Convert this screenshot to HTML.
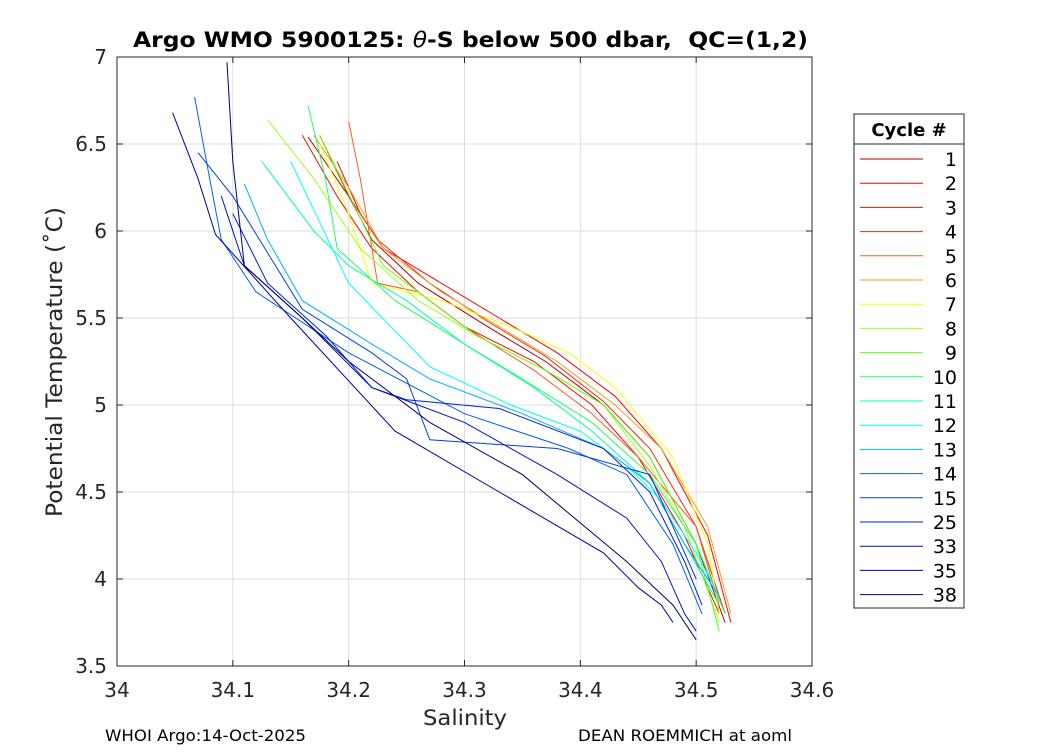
<!DOCTYPE html>
<html><head><meta charset="utf-8"><style>
body{margin:0;background:#fff;font-family:"Liberation Sans","DejaVu Sans",sans-serif}
svg text{font-family:"DejaVu Sans","Liberation Sans",sans-serif}
</style></head><body>
<svg id="chart" width="1050" height="750" xmlns="http://www.w3.org/2000/svg">
<rect width="1050" height="750" fill="#fff"/>
<g id="grid"></g>
<g id="series"></g>
<rect x="117" y="57" width="695" height="609" fill="none" stroke="#262626" stroke-width="1"/>
<g id="ticks"></g>
<text x="133" y="47" font-size="21" font-weight="bold" fill="#000" textLength="675" lengthAdjust="spacingAndGlyphs" xml:space="preserve">Argo WMO 5900125: <tspan font-style="italic" font-weight="normal">θ</tspan>-S below 500 dbar,  QC=(1,2)</text>
<text x="423" y="725" font-size="21" fill="#262626" textLength="84" lengthAdjust="spacingAndGlyphs">Salinity</text>
<text transform="translate(62,517) rotate(-90)" font-size="22" fill="#262626" textLength="310" lengthAdjust="spacingAndGlyphs">Potential Temperature (˚C)</text>
<text x="105" y="741" font-size="16" fill="#000" textLength="201" lengthAdjust="spacingAndGlyphs">WHOI Argo:14-Oct-2025</text>
<text x="578" y="741" font-size="16" fill="#000" textLength="214" lengthAdjust="spacingAndGlyphs">DEAN ROEMMICH at aoml</text>
<g id="legend">
<rect x="854" y="114" width="110" height="494" fill="#fff" stroke="#262626"/>
<line x1="854" y1="144" x2="964" y2="144" stroke="#262626"/>
<text x="909" y="136" text-anchor="middle" font-size="18" font-weight="bold" fill="#000">Cycle #</text>
</g>
</svg>
<script>
const cycles=[1,2,3,4,5,6,7,8,9,10,11,12,13,14,15,25,33,35,38];
const colors=["#b00000","#ff0000","#f01000","#e83010","#f06020","#f0a020","#ffff00","#a0ff20","#60ff20","#20ff60","#00ffb0","#00ffff","#00b0ff","#0060f0","#0040e0","#0020d0","#0010c0","#0000a0","#000070"];
const salinity=[
[34.165,34.2,34.22,34.26,34.32,34.37,34.42,34.46,34.5,34.525],
[34.19,34.21,34.23,34.28,34.33,34.38,34.43,34.47,34.51,34.53],
[34.16,34.19,34.22,34.26,34.3,34.36,34.41,34.45,34.49,34.52],
[34.175,34.2,34.225,34.27,34.32,34.37,34.42,34.46,34.5,34.525],
[34.2,34.21,34.225,34.26,34.3,34.36,34.41,34.45,34.5,34.52],
[34.17,34.2,34.23,34.28,34.33,34.38,34.43,34.47,34.51,34.53],
[34.175,34.2,34.22,34.28,34.34,34.39,34.43,34.48,34.51,34.52],
[34.13,34.17,34.21,34.26,34.31,34.37,34.42,34.46,34.49,34.52],
[34.175,34.19,34.23,34.27,34.31,34.37,34.42,34.46,34.5,34.52],
[34.165,34.18,34.19,34.24,34.3,34.35,34.41,34.46,34.5,34.525],
[34.125,34.17,34.2,34.25,34.3,34.36,34.41,34.46,34.49,34.52],
[34.15,34.175,34.2,34.27,34.34,34.4,34.44,34.47,34.5,34.52],
[34.11,34.13,34.16,34.22,34.27,34.35,34.42,34.46,34.49,34.52],
[34.067,34.08,34.09,34.12,34.2,34.3,34.39,34.44,34.48,34.505],
[34.07,34.1,34.16,34.22,34.24,34.25,34.27,34.38,34.46,34.5],
[34.1,34.13,34.18,34.22,34.25,34.33,34.42,34.46,34.49,34.505],
[34.09,34.11,34.16,34.22,34.3,34.38,34.44,34.47,34.49,34.5],
[34.048,34.07,34.085,34.15,34.24,34.33,34.42,34.45,34.47,34.48],
[34.095,34.1,34.11,34.16,34.2,34.27,34.35,34.44,34.48,34.5]];
const theta=[
[6.54,6.2,5.95,5.7,5.45,5.25,5.0,4.7,4.2,3.75],
[6.4,6.1,5.9,5.7,5.5,5.3,5.05,4.75,4.25,3.75],
[6.55,6.2,5.9,5.65,5.45,5.25,5.0,4.7,4.25,3.8],
[6.55,6.2,5.95,5.7,5.48,5.28,5.02,4.75,4.3,3.8],
[6.63,6.3,5.7,5.65,5.45,5.2,4.95,4.7,4.3,3.85],
[6.55,6.25,5.9,5.65,5.45,5.25,5.0,4.75,4.3,3.8],
[6.5,6.1,5.7,5.6,5.45,5.3,5.1,4.7,4.2,3.8],
[6.64,6.3,5.9,5.6,5.4,5.2,5.0,4.65,4.3,3.75],
[6.55,6.35,5.8,5.6,5.4,5.2,5.0,4.7,4.2,3.7],
[6.72,6.3,5.9,5.6,5.35,5.15,4.9,4.6,4.2,3.8],
[6.4,6.0,5.8,5.6,5.35,5.1,4.85,4.55,4.2,3.85],
[6.4,6.05,5.7,5.22,5.0,4.85,4.65,4.45,4.15,3.9],
[6.27,5.95,5.6,5.35,5.15,4.95,4.75,4.55,4.2,3.9],
[6.77,6.3,5.95,5.65,5.3,4.95,4.75,4.6,4.2,3.8],
[6.45,6.2,5.55,5.3,5.2,5.15,4.8,4.75,4.6,4.0],
[6.1,5.7,5.4,5.1,5.03,4.98,4.75,4.5,4.1,3.85],
[6.2,5.8,5.5,5.1,4.9,4.6,4.35,4.1,3.8,3.7],
[6.68,6.3,5.98,5.5,4.85,4.5,4.15,3.95,3.85,3.75],
[6.97,6.4,5.8,5.5,5.25,4.9,4.6,4.1,3.85,3.65]];
const xTicks=[34,34.1,34.2,34.3,34.4,34.5,34.6];
const yTicks=[3.5,4,4.5,5,5.5,6,6.5,7];
const xs=s=>117+(s-34)/0.6*695;
const ys=t=>666-(t-3.5)/3.5*609;
const NS="http://www.w3.org/2000/svg";
const grid=document.getElementById('grid'),tk=document.getElementById('ticks');
function mk(tag,attrs,parent){const e=document.createElementNS(NS,tag);for(const k in attrs)e.setAttribute(k,attrs[k]);parent.appendChild(e);return e;}
xTicks.forEach(v=>{const x=xs(v);
 mk('line',{x1:x,x2:x,y1:57,y2:666,stroke:'#dcdcdc'},grid);
 mk('line',{x1:x,x2:x,y1:666,y2:660,stroke:'#262626'},tk);
 mk('line',{x1:x,x2:x,y1:57,y2:63,stroke:'#262626'},tk);
 const t=mk('text',{x:x,y:697,'text-anchor':'middle','font-size':20,fill:'#262626'},tk);t.textContent=v;
 
 });
yTicks.forEach(v=>{const y=ys(v);
 mk('line',{x1:117,x2:812,y1:y,y2:y,stroke:'#dcdcdc'},grid);
 mk('line',{x1:117,x2:123,y1:y,y2:y,stroke:'#262626'},tk);
 mk('line',{x1:812,x2:806,y1:y,y2:y,stroke:'#262626'},tk);
 const t=mk('text',{x:107,y:y+7,'text-anchor':'end','font-size':20,fill:'#262626'},tk);t.textContent=v;
 
 });
const sg=document.getElementById('series'),lg=document.getElementById('legend');
cycles.forEach((c,i)=>{
 const pts=salinity[i].map((s,j)=>xs(s).toFixed(1)+','+ys(theta[i][j]).toFixed(1)).join(' ');
 const p=mk('polyline',{points:pts,fill:'none',stroke:colors[i],'stroke-width':1},sg);
 
 
 const y=159+i*24.2;
 const l=mk('line',{x1:860,x2:923,y1:y,y2:y,stroke:colors[i]},lg);
 
 
 const t=mk('text',{x:957,y:y+7,'text-anchor':'end','font-size':19,fill:'#000'},lg);t.textContent=c;
 
 
});
</script>
</body></html>
